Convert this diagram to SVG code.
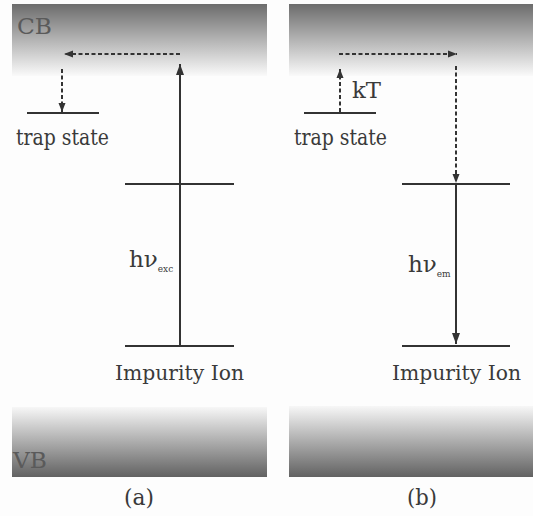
<svg xmlns="http://www.w3.org/2000/svg" width="533" height="516" viewBox="0 0 533 516">
<defs>
<linearGradient id="cbGrad" x1="0" y1="0" x2="0" y2="1">
<stop offset="0" stop-color="#6c6c6c"/>
<stop offset="0.5" stop-color="#b4b4b4"/>
<stop offset="1" stop-color="#fafafa"/>
</linearGradient>
<linearGradient id="vbGrad" x1="0" y1="0" x2="0" y2="1">
<stop offset="0" stop-color="#f7f7f7"/>
<stop offset="0.5" stop-color="#acacac"/>
<stop offset="1" stop-color="#626262"/>
</linearGradient>
<marker id="solidHead" markerUnits="userSpaceOnUse" markerWidth="12" markerHeight="12" viewBox="0 0 12 12" refX="11" refY="6" orient="auto">
<path d="M0,2 L11,6 L0,10 Z" fill="#333"/>
</marker>
<marker id="dashHead" markerUnits="userSpaceOnUse" markerWidth="10" markerHeight="10" viewBox="0 0 10 10" refX="9" refY="5" orient="auto">
<path d="M0,1.5 L9,5 L0,8.5 Z" fill="#333"/>
</marker>
</defs>
<style>
.level{stroke:#333;stroke-width:2.2;fill:none}
.solid{stroke:#333;stroke-width:2;fill:none;marker-end:url(#solidHead)}
.dash{stroke:#333;stroke-width:2;fill:none;stroke-dasharray:4 2.5;marker-end:url(#dashHead)}
.lbl{font-family:"DejaVu Serif",serif;font-size:23px;fill:#3a3a3a}
.ion{font-size:21px}
.band{font-family:"DejaVu Serif",serif;font-size:23px;fill:#5a5a5a}
.sub{font-size:9px}
</style>
<rect x="0" y="0" width="533" height="516" fill="#fdfdfd"/>

<g id="panel-a-bands">
<rect x="12" y="4" width="255" height="72" fill="url(#cbGrad)"/>
<rect x="12" y="407" width="255" height="70" fill="url(#vbGrad)"/>
<text class="band" x="17" y="34" textLength="35" lengthAdjust="spacingAndGlyphs">CB</text>
<text class="band" x="13" y="468" textLength="34" lengthAdjust="spacingAndGlyphs">VB</text>
</g>
<g id="panel-b-bands">
<rect x="289" y="4" width="244" height="72" fill="url(#cbGrad)"/>
<rect x="289" y="406" width="244" height="71" fill="url(#vbGrad)"/>
</g>

<g id="a-trap">
<line class="level" x1="27" y1="113" x2="99" y2="113"/>
<text class="lbl" x="16" y="145" textLength="93" lengthAdjust="spacingAndGlyphs">trap state</text>
</g>
<g id="a-upper">
<line class="level" x1="125" y1="184" x2="234" y2="184"/>
</g>
<g id="a-lower">
<line class="level" x1="125" y1="346" x2="234" y2="346"/>
<text class="lbl ion" x="115" y="380" textLength="129" lengthAdjust="spacingAndGlyphs">Impurity Ion</text>
</g>
<g id="b-trap">
<line class="level" x1="304" y1="113" x2="376" y2="113"/>
<text class="lbl" x="294" y="145" textLength="93" lengthAdjust="spacingAndGlyphs">trap state</text>
</g>
<g id="b-upper">
<line class="level" x1="402" y1="184" x2="510" y2="184"/>
</g>
<g id="b-lower">
<line class="level" x1="402" y1="346" x2="510" y2="346"/>
<text class="lbl ion" x="392" y="380" textLength="129" lengthAdjust="spacingAndGlyphs">Impurity Ion</text>
</g>

<g id="connectors">
<line class="solid" x1="180" y1="346" x2="180" y2="64"/>
<line class="dash" x1="180" y1="54" x2="64" y2="54"/>
<line class="dash" x1="62" y1="69" x2="62" y2="112"/>
<line class="dash" x1="340" y1="112" x2="340" y2="69"/>
<line class="dash" x1="339" y1="54" x2="457" y2="54"/>
<line class="dash" x1="456" y1="66" x2="456" y2="183"/>
<line class="solid" x1="456" y1="184" x2="456" y2="344"/>
</g>

<g id="labels">
<text class="lbl" x="129" y="267">hν<tspan class="sub" dy="5">exc</tspan></text>
<text class="lbl" x="352" y="98" textLength="29" lengthAdjust="spacingAndGlyphs">kT</text>
<text class="lbl" x="408" y="272">hν<tspan class="sub" dy="5">em</tspan></text>
<text class="lbl" x="139" y="505" text-anchor="middle" textLength="30" lengthAdjust="spacingAndGlyphs">(a)</text>
<text class="lbl" x="422" y="505" text-anchor="middle" textLength="30" lengthAdjust="spacingAndGlyphs">(b)</text>
</g>
</svg>
